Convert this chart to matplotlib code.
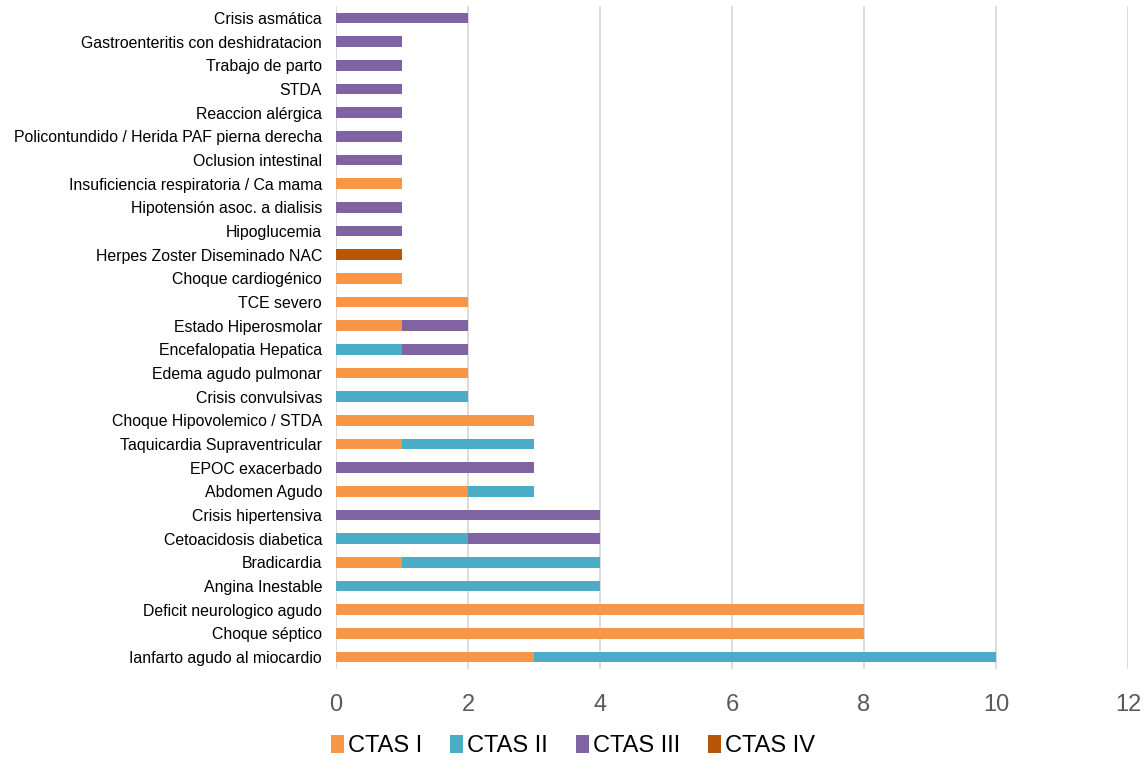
import numpy as np
import matplotlib.pyplot as plt

plt.rcParams['font.family'] = ['Liberation Sans', 'DejaVu Sans']

categories = [
    "Ianfarto agudo al miocardio",
    "Choque séptico",
    "Deficit neurologico agudo",
    "Angina Inestable",
    "Bradicardia",
    "Cetoacidosis diabetica",
    "Crisis hipertensiva",
    "Abdomen Agudo",
    "EPOC exacerbado",
    "Taquicardia Supraventricular",
    "Choque Hipovolemico / STDA",
    "Crisis convulsivas",
    "Edema agudo pulmonar",
    "Encefalopatia Hepatica",
    "Estado Hiperosmolar",
    "TCE severo",
    "Choque cardiogénico",
    "Herpes Zoster Diseminado NAC",
    "Hipoglucemia",
    "Hipotensión asoc. a dialisis",
    "Insuficiencia respiratoria / Ca mama",
    "Oclusion intestinal",
    "Policontundido / Herida PAF pierna derecha",
    "Reaccion alérgica",
    "STDA",
    "Trabajo de parto",
    "Gastroenteritis con deshidratacion",
    "Crisis asmática",
]

ctas_1 = [3, 8, 8, 0, 1, 0, 0, 2, 0, 1, 3, 0, 2, 0, 1, 2, 1, 0, 0, 0, 1, 0, 0, 0, 0, 0, 0, 0]
ctas_2 = [7, 0, 0, 4, 3, 2, 0, 1, 0, 2, 0, 2, 0, 1, 0, 0, 0, 0, 0, 0, 0, 0, 0, 0, 0, 0, 0, 0]
ctas_3 = [0, 0, 0, 0, 0, 2, 4, 0, 3, 0, 0, 0, 0, 1, 1, 0, 0, 0, 1, 1, 0, 1, 1, 1, 1, 1, 1, 2]
ctas_4 = [0, 0, 0, 0, 0, 0, 0, 0, 0, 0, 0, 0, 0, 0, 0, 0, 0, 1, 0, 0, 0, 0, 0, 0, 0, 0, 0, 0]

series = [
    ("CTAS I", ctas_1, "#F79646"),
    ("CTAS II", ctas_2, "#4BACC6"),
    ("CTAS III", ctas_3, "#8064A2"),
    ("CTAS IV", ctas_4, "#B65708"),
]

narrow = ['Liberation Sans Narrow', 'Liberation Sans', 'DejaVu Sans']

fig = plt.figure(figsize=(11.46, 7.63), dpi=100)
ax = fig.add_axes([0.2932, 0.1232, 0.6911, 0.8688])

y = np.arange(len(categories))
left = np.zeros(len(categories))
for name, vals, color in series:
    vals = np.array(vals, dtype=float)
    ax.barh(y, vals, left=left, height=0.45, color=color, label=name, zorder=3)
    left += vals

ax.set_ylim(-0.5, len(categories) - 0.5)
ax.set_xlim(0, 12)
ax.set_xticks(range(0, 13, 2))
ax.set_yticks(y)
ax.set_yticklabels(categories, fontsize=11.4, color="#000000")
ax.tick_params(axis="y", length=0, pad=10)
ax.tick_params(axis="x", length=0, pad=18)
for lbl in ax.get_xticklabels():
    lbl.set_family(narrow)
    lbl.set_fontsize(17)
    lbl.set_color("#595959")
ax.grid(axis="x", color="#D9D9D9", linewidth=1.3, zorder=0)
for s in ax.spines.values():
    s.set_visible(False)

fig.legend(loc="lower center", bbox_to_anchor=(0.5, -0.02), ncol=4, frameon=False,
           prop={'family': narrow, 'size': 17}, handlelength=0.55, handleheight=0.8,
           handletextpad=0.15, columnspacing=1.2, labelcolor="#000000")

fig.savefig("out.png", dpi=100)
plt.close(fig)
